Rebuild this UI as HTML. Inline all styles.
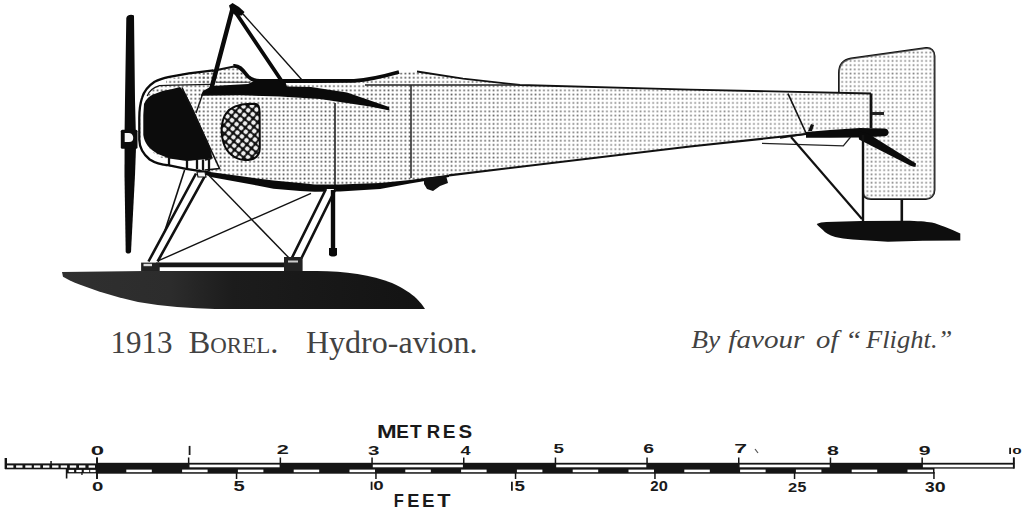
<!DOCTYPE html>
<html><head><meta charset="utf-8">
<style>
html,body{margin:0;padding:0;background:#fff;}
body{width:1024px;height:510px;overflow:hidden;position:relative;}
svg{position:absolute;left:0;top:0;}
</style></head>
<body>
<svg width="1024" height="510" viewBox="0 0 1024 510">
<defs>
<pattern id="dots" patternUnits="userSpaceOnUse" x="0" y="0" width="4.2" height="4.2">
<rect x="1.3" y="1.3" width="1.7" height="1.7" fill="#555"/>
</pattern>
<pattern id="hatch" patternUnits="userSpaceOnUse" x="0" y="0" width="6" height="6" patternTransform="rotate(40)">
<rect width="6" height="6" fill="#111"/>
<circle cx="3" cy="3" r="2.3" fill="#eee"/>
</pattern>
<linearGradient id="floatg" x1="62" y1="0" x2="425" y2="0" gradientUnits="userSpaceOnUse">
<stop offset="0" stop-color="#303030"/>
<stop offset="0.3" stop-color="#2c2c2c"/>
<stop offset="0.47" stop-color="#1c1c1c"/>
<stop offset="1" stop-color="#131313"/>
</linearGradient>
<linearGradient id="fade" x1="380" y1="0" x2="640" y2="0" gradientUnits="userSpaceOnUse">
<stop offset="0" stop-color="#fff" stop-opacity="0"/>
<stop offset="1" stop-color="#fff" stop-opacity="0.3"/>
</linearGradient>
</defs>

<!-- ===== RUDDER ===== -->
<path d="M839,100 L839,73 C839,64 843,60 851,58.5 L926,48 C931,47.5 934.5,51 934.5,56 L934.5,190 C934.5,195 931,199 926,199 L871,199 C866,199 863,196 863,191 L863,135 L839,135 Z" fill="url(#dots)" stroke="#111" stroke-width="1.9"/>
<path d="M839,100 L839,73 C839,64 843,60 851,58.5 L926,48 C931,47.5 934.5,51 934.5,56 L934.5,190 C934.5,195 931,199 926,199 L871,199 C866,199 863,196 863,191 L863,135 L839,135 Z" fill="url(#fade)"/>

<!-- ===== FUSELAGE FILL ===== -->
<path d="M140,108 C140,95 148,84 162,78 L184,73.6 L212,71 L233,66 C238,65 240,68 242,71 C246,76 250,79 256,80 L313,80 L354,80 L375,78 L401,72.6 L417,71.7 L463,78.7 L520,85 L690,89.7 L871,93.5 L871,128 L806,134 L690,146.5 L449,175.3 L425,179.4 L350,185.7 L334,187 L308,187 L257,180.6 L206,172 L181,169 C165,167 152,163 146,157 C141,152 140,145 140,140 Z" fill="#fff"/>
<path d="M140,108 C140,95 148,84 162,78 L184,73.6 L212,71 L233,66 C238,65 240,68 242,71 C246,76 250,79 256,80 L313,80 L354,80 L375,78 L401,72.6 L417,71.7 L463,78.7 L520,85 L690,89.7 L871,93.5 L871,128 L806,134 L690,146.5 L449,175.3 L425,179.4 L350,185.7 L334,187 L308,187 L257,180.6 L206,172 L181,169 C165,167 152,163 146,157 C141,152 140,145 140,140 Z" fill="url(#dots)"/>
<path d="M140,108 C140,95 148,84 162,78 L184,73.6 L212,71 L233,66 C238,65 240,68 242,71 C246,76 250,79 256,80 L313,80 L354,80 L375,78 L401,72.6 L417,71.7 L463,78.7 L520,85 L690,89.7 L871,93.5 L871,128 L806,134 L690,146.5 L449,175.3 L425,179.4 L350,185.7 L334,187 L308,187 L257,180.6 L206,172 L181,169 C165,167 152,163 146,157 C141,152 140,145 140,140 Z" fill="url(#fade)"/>

<!-- nose white rim band -->
<path d="M140,110 C141,97 148,86 158,80.5 L172,77.5 L200,74 L200,84.6 L174,85.1 L159.5,85.6 C152,88 147,95 145,104 L144,135 C146,146 152,153 160,157.5 L187,161 L211.5,158.5 L219,168.5 L186,168.8 L169,165.4 C160,164.5 152,162 147,157.5 C142,152.5 140.5,146 140.5,140 Z" fill="#fff"/>
<!-- dotted band at top of nose -->
<path d="M166,79 L200,74.5 L212,72 L212,84.4 L174,85.1 L166,85.4 Z" fill="url(#dots)"/>
<!-- black cowl -->
<path d="M144,104 C146,99 149.5,95.5 154.6,94 L162.5,91 L172.3,89 L180.1,87 L186,94.4 L191.9,106.2 L195.8,115 L210,147 L212.5,158.5 L187,161 L169.3,158.5 L158,154 C149,149 144.5,143 143.3,135 L143.3,115 Z" fill="#0c0c0c"/>
<!-- inner rim line -->
<path d="M212,84.4 L174,85.1 L159.5,85.6 C153,87.5 149,91 147.2,96" stroke="#151515" stroke-width="1.3" fill="none"/>
<!-- teeth -->
<g stroke="#111" stroke-width="2.3">
<line x1="169" y1="157" x2="169" y2="166"/>
<line x1="187" y1="160" x2="187" y2="168.5"/>
<line x1="197" y1="160" x2="197" y2="169"/>
<line x1="203" y1="159.5" x2="203" y2="170"/>
<line x1="209" y1="159" x2="209" y2="171"/>
</g>
<!-- cowl diagonal edge line continuing -->
<path d="M182,87.5 L219.5,168.5 L205,170" stroke="#111" stroke-width="1.6" fill="none"/>
<path d="M211.5,158.5 L205,160" stroke="#111" stroke-width="1.4" fill="none"/>
<path d="M203,93 L196,113" stroke="#151515" stroke-width="1.4" fill="none"/>

<!-- nose outer outline -->
<path d="M213.4,70.4 L188.9,73.3 L169.3,76.8 C162,78.5 158,80 154.6,81.7 C148,86 144,91 142,98 C140,104 139.3,110 139.3,118 L139.3,140 C139.5,148 143,154 149.7,159.5 C155,163 161,164.6 169.3,165.4 L186,168.8 L210.5,172.7" stroke="#0a0a0a" stroke-width="2.3" fill="none"/>

<!-- fuselage top outline -->
<path d="M212,71 L234,66.5" stroke="#111" stroke-width="2" fill="none"/>
<path d="M233.5,66 C240,65 244,72 248,76.5 C251,79.5 254,81 260,81 L313,81 L354,80.8 C370,79.8 385,76 399,72" stroke="#0a0a0a" stroke-width="3.8" fill="none"/>
<path d="M417,71.5 L463,78.7 L520,85 L690,89.7 L871,93.5" stroke="#111" stroke-width="1.8" fill="none"/>
<path d="M365,85 L520,85" stroke="#222" stroke-width="1.3" fill="none"/>
<path d="M216,82.2 L250,82.2" stroke="#222" stroke-width="1" fill="none"/>
<!-- rear end -->
<path d="M871,93.5 L871,128" stroke="#111" stroke-width="2.8" fill="none"/>
<path d="M872,113.5 L884,113.5" stroke="#222" stroke-width="3" fill="none"/>

<!-- panel lines -->
<path d="M335,103 L335,187" stroke="#222" stroke-width="1.6"/>
<path d="M411,85 L411,178" stroke="#222" stroke-width="1.5"/>
<path d="M788,93.7 L806,133" stroke="#111" stroke-width="1.6"/>

<!-- fuselage bottom band -->
<path d="M205,171.3 L212,172.2 L257,178.5 L273.5,180.4 L300,183 L314.7,184.6 L340,184.5 L380,183 L410,180 L449,174.8 L449,177 L410,183.5 L380,189 L340,191.5 L314.7,191.8 L300,191 L273.5,188.7 L257,185.5 L212,177.3 L206,175 Z" fill="#0a0a0a"/>
<path d="M449,175.3 L690,146.5 L806,134" stroke="#111" stroke-width="2.2" fill="none"/>
<!-- blob under fuselage -->
<path d="M424,178 L446,175.5 L448,183 L440,186 L433,191 L427,189 L424,184 Z" fill="#111"/>

<!-- wing band -->
<path d="M201,95 L203,91 L212,86 L248,84 L254,81 L285,81 L287,86.5 L311,87 L347,92.5 L389,107 L389.5,110.5 L370,106.5 L320,99 L280,96.5 L240,95.3 L201,95.8 Z" fill="#0a0a0a"/>

<!-- oval hatched window -->
<path d="M250,103.8 L256,104 C259,104.5 259.5,108 259.6,112 L259.8,148 C259.8,156 255,160 245,160 C235,160 226.5,152.5 223.5,143 C220.5,133 221,121 226,113.5 C231,106.5 240,104 250,103.8 Z" fill="url(#hatch)" stroke="#0a0a0a" stroke-width="2"/>

<!-- ===== TAIL ===== -->
<!-- tailplane -->
<path d="M806,132 L830,130 L860,128 L884,128.6 C887,128.8 888.5,130 888.5,132.5 C888.5,135 887,136 884,136.2 L860,137.5 L830,137.8 L806,137.8 Z" fill="#0a0a0a"/>
<path d="M808,131 L811,124 L814,125 L812,131 Z" fill="#111"/>
<path d="M858,131 L868,133.5 L916,163.5 L915.5,167 L911,166 L859,139.5 Z" fill="#0a0a0a"/>
<!-- under lines -->
<path d="M762,143.4 L843.3,145.8 L850.6,137" stroke="#222" stroke-width="1.3" fill="none"/>
<path d="M780,138 L806,134" stroke="#111" stroke-width="1.6" fill="none"/>
<!-- tail strut -->
<path d="M791,137 L862,219" stroke="#111" stroke-width="2.2" fill="none"/>
<path d="M863,135 L863,221" stroke="#111" stroke-width="2.4" fill="none"/>
<path d="M901.8,199 L901.8,221" stroke="#111" stroke-width="2.6" fill="none"/>
<!-- tail float -->
<path d="M816.7,224 C819,222.8 823,222.2 826.4,222 L861.5,221.1 L905.5,220.7 C918,220.9 926,221.5 931.8,222.5 C940,224.5 950,229 960.3,233.4 L960.3,240.4 L923,240.8 L887.9,241.7 L852.7,239.5 C846,238.6 840,238 835.2,236.9 C829,235 825,232.5 822.9,229.9 C820,227.5 818,226 816.7,224 Z" fill="#0e0e0e"/>

<!-- ===== PROPELLER ===== -->
<path d="M126.3,18 C127,15 131,14 134,15.5 L135,100 L135.8,131 L124.6,131 L125,100 Z" fill="#0a0a0a"/>
<path d="M124.6,148 L136,148 L135,175 L131,252 C129.5,254 127,254 125.7,252 L124.5,175 Z" fill="#0a0a0a"/>
<rect x="120.8" y="129.7" width="16.7" height="19.1" rx="1.5" fill="#0a0a0a"/>
<path d="M124.7,133.1 L129,133.1 C132,133.1 133.2,136 133.2,138 C133.2,140.5 132,142 129,142 L124.7,142 Z" fill="#f6f6f6"/>

<!-- ===== PYLON ===== -->
<path d="M229,5.5 L232.5,3 L239,7 L244.5,12 L242,15.5 L236,15.5 L231,12 Z" fill="#0a0a0a"/>
<path d="M233,7 L211,90" stroke="#0a0a0a" stroke-width="4.5" stroke-linecap="round"/>
<path d="M236,13 L283,83" stroke="#0a0a0a" stroke-width="3.8" stroke-linecap="round"/>
<path d="M243,14 L302,80" stroke="#111" stroke-width="1.4"/>

<!-- ===== UNDERCARRIAGE ===== -->
<!-- front strut -->
<path d="M196,173.5 L148.5,261.5 L157.6,261.5 L205,175.8 Z" fill="#fff"/>
<path d="M196,173.5 L148.5,261.5 M205,175.8 L157.6,261.5" stroke="#111" stroke-width="2.6"/>
<path d="M197,172 L205,172 L206,177 L198,177 Z" fill="#f5f5f5" stroke="#111" stroke-width="1.2"/>
<path d="M184.6,170 L164.5,232" stroke="#111" stroke-width="1.6"/>
<!-- rear strut -->
<path d="M326,189 L291.6,258.5 L301.3,258.5 L336,189 Z" fill="#fff"/>
<path d="M326,189 L291.6,258.5 M335.5,189 L301.3,258.5" stroke="#111" stroke-width="2.6"/>
<!-- vertical rod -->
<path d="M333,190 L333,250" stroke="#0a0a0a" stroke-width="4.4"/>
<path d="M329,248 L337,248 L337,255 C335,257 331,257 329,255 Z" fill="#0a0a0a"/>
<!-- bracing wires -->
<path d="M209,175.5 L290.6,259.6" stroke="#111" stroke-width="1.4"/>
<path d="M158,260.9 L311,193.3" stroke="#111" stroke-width="1.4"/>
<!-- horizontal bar -->
<path d="M156,262.6 L290,262.6 L290,267.3 L156,267.3 Z" fill="#161616"/>
<path d="M141.1,262.6 L159.7,262.6 L159.7,271.5 L141.1,271.5 Z" fill="#222"/>
<path d="M143.5,263.8 L152,263.8 L152,266.2 L143.5,266.2 Z" fill="#ddd"/>
<path d="M284,257 L302.6,257 L302.6,271.5 L284,271.5 Z" fill="#222"/>
<path d="M288,260.5 L298,260.5 L298,262.5 L288,262.5 Z" fill="#ccc"/>

<!-- ===== MAIN FLOAT ===== -->
<path d="M62,272 L145,271 L317,271 C345,271.2 372,275 392,283 C404,288.5 411,293.5 416.5,298.5 C420,302 423,305.5 425,309 L215,309 L196.7,308.2 L177,307 L157.7,305.1 L138,302.1 L118.6,297.3 L99,291.4 L79.5,284.5 C72,281.5 67,279 63,276.7 Z" fill="url(#floatg)"/>

<!-- ===== SCALE BAR ===== -->
<g id="scale">
<rect x="5" y="463.4" width="92" height="5.9" fill="#151515"/>
<rect x="66.6" y="468.8" width="30.4" height="4.6" fill="#151515"/>
<rect x="7.0" y="465.4" width="6.4" height="2.3" fill="#fff"/>
<rect x="16.1" y="465.4" width="6.4" height="2.3" fill="#fff"/>
<rect x="25.3" y="465.4" width="6.4" height="2.3" fill="#fff"/>
<rect x="33.9" y="465.4" width="6.4" height="2.3" fill="#fff"/>
<rect x="43.0" y="465.4" width="6.4" height="2.3" fill="#fff"/>
<rect x="52.1" y="465.4" width="6.4" height="2.3" fill="#fff"/>
<rect x="60.7" y="465.4" width="6.4" height="2.3" fill="#fff"/>
<rect x="69.8" y="465.4" width="6.4" height="2.3" fill="#fff"/>
<rect x="79.0" y="465.4" width="6.4" height="2.3" fill="#fff"/>
<rect x="88.6" y="465.4" width="6.4" height="2.3" fill="#fff"/>
<rect x="68.7" y="469.9" width="5.4" height="2.2" fill="#fff"/>
<rect x="76.3" y="469.9" width="5.4" height="2.2" fill="#fff"/>
<rect x="83.8" y="469.9" width="5.4" height="2.2" fill="#fff"/>
<rect x="90.2" y="469.9" width="5.4" height="2.2" fill="#fff"/>
<rect x="4.6" y="458" width="2.4" height="11" fill="#151515"/>
<rect x="50.3" y="461" width="1.5" height="3" fill="#151515"/>
<rect x="65.8" y="469" width="1.6" height="9.5" fill="#151515"/>
<rect x="81.3" y="472" width="1.3" height="3" fill="#151515"/>
<rect x="97" y="462.8" width="917.6" height="5.8" fill="#151515"/>
<rect x="97" y="468" width="837.5" height="5.7" fill="#151515"/>
<rect x="189.5" y="464.6" width="90.1" height="2.7" fill="#fff"/>
<rect x="372.8" y="464.6" width="90.1" height="2.7" fill="#fff"/>
<rect x="556.2" y="464.6" width="90.1" height="2.7" fill="#fff"/>
<rect x="739.6" y="464.6" width="90.1" height="2.7" fill="#fff"/>
<rect x="922.9" y="464.6" width="90.1" height="2.7" fill="#fff"/>
<rect x="126.3" y="469.6" width="25.5" height="2.6" fill="#fff"/>
<rect x="182.1" y="469.6" width="25.5" height="2.6" fill="#fff"/>
<rect x="237.9" y="469.6" width="25.5" height="2.6" fill="#fff"/>
<rect x="293.7" y="469.6" width="25.5" height="2.6" fill="#fff"/>
<rect x="349.5" y="469.6" width="25.5" height="2.6" fill="#fff"/>
<rect x="405.3" y="469.6" width="25.5" height="2.6" fill="#fff"/>
<rect x="461.1" y="469.6" width="25.5" height="2.6" fill="#fff"/>
<rect x="516.9" y="469.6" width="25.5" height="2.6" fill="#fff"/>
<rect x="572.7" y="469.6" width="25.5" height="2.6" fill="#fff"/>
<rect x="628.5" y="469.6" width="25.5" height="2.6" fill="#fff"/>
<rect x="684.3" y="469.6" width="25.5" height="2.6" fill="#fff"/>
<rect x="740.1" y="469.6" width="25.5" height="2.6" fill="#fff"/>
<rect x="795.9" y="469.6" width="25.5" height="2.6" fill="#fff"/>
<rect x="851.7" y="469.6" width="25.5" height="2.6" fill="#fff"/>
<rect x="907.5" y="469.6" width="25.5" height="2.6" fill="#fff"/>
<rect x="96.2" y="457.5" width="1.5" height="6" fill="#151515"/>
<rect x="187.9" y="457.5" width="1.5" height="6" fill="#151515"/>
<rect x="279.6" y="457.5" width="1.5" height="6" fill="#151515"/>
<rect x="371.3" y="457.5" width="1.5" height="6" fill="#151515"/>
<rect x="463.0" y="457.5" width="1.5" height="6" fill="#151515"/>
<rect x="554.7" y="457.5" width="1.5" height="6" fill="#151515"/>
<rect x="646.3" y="457.5" width="1.5" height="6" fill="#151515"/>
<rect x="738.0" y="457.5" width="1.5" height="6" fill="#151515"/>
<rect x="829.7" y="457.5" width="1.5" height="6" fill="#151515"/>
<rect x="921.4" y="457.5" width="1.5" height="6" fill="#151515"/>
<rect x="1013.1" y="457.5" width="1.5" height="6" fill="#151515"/>
<rect x="96.2" y="472" width="1.5" height="7" fill="#151515"/>
<rect x="235.8" y="472" width="1.5" height="7" fill="#151515"/>
<rect x="375.2" y="472" width="1.5" height="7" fill="#151515"/>
<rect x="514.8" y="472" width="1.5" height="7" fill="#151515"/>
<rect x="654.2" y="472" width="1.5" height="7" fill="#151515"/>
<rect x="793.8" y="472" width="1.5" height="7" fill="#151515"/>
<rect x="933.2" y="472" width="1.5" height="7" fill="#151515"/>
<rect x="96.2" y="457.5" width="1.7" height="21.5" fill="#151515"/>
<rect x="1012.9" y="457.5" width="1.7" height="11" fill="#151515"/>
<g font-family="Liberation Sans, sans-serif" font-weight="bold" fill="#1a1a1a">
<text transform="translate(90.84,455.00) scale(1.953,1)" font-size="12.29">0</text>
<text transform="translate(276.84,454.00) scale(1.764,1)" font-size="12.29">2</text>
<text transform="translate(367.88,454.50) scale(1.639,1)" font-size="12.57">3</text>
<text transform="translate(460.43,455.00) scale(1.390,1)" font-size="13.04">4</text>
<text transform="translate(553.54,453.20) scale(1.410,1)" font-size="13.33">5</text>
<text transform="translate(643.22,453.40) scale(1.443,1)" font-size="13.43">6</text>
<text transform="translate(734.26,453.40) scale(1.689,1)" font-size="13.62">7</text>
<text transform="translate(826.96,454.80) scale(1.595,1)" font-size="13.43">8</text>
<text transform="translate(918.66,455.10) scale(1.770,1)" font-size="12.00">9</text>
<text transform="translate(1012.32,453.90) scale(1.809,1)" font-size="9.43">0</text>
<text transform="translate(92.08,490.50) scale(1.554,1)" font-size="13.14">0</text>
<text transform="translate(233.59,490.50) scale(1.467,1)" font-size="13.77">5</text>
<text transform="translate(373.25,490.00) scale(1.490,1)" font-size="12.57">0</text>
<text transform="translate(514.44,490.80) scale(1.351,1)" font-size="13.91">5</text>
<text transform="translate(650.27,491.00) scale(1.050,1)" font-size="14.29">2</text>
<text transform="translate(658.84,491.00) scale(1.149,1)" font-size="14.29">0</text>
<text transform="translate(788.02,491.50) scale(1.213,1)" font-size="13.57">2</text>
<text transform="translate(797.52,491.50) scale(1.162,1)" font-size="13.77">5</text>
<text transform="translate(924.97,491.50) scale(1.254,1)" font-size="13.86">3</text>
<text transform="translate(934.72,491.50) scale(1.413,1)" font-size="13.86">0</text>
<text transform="translate(377.06,437.70) scale(1.330,1)" font-size="17.83">M</text>
<text transform="translate(396.17,437.70) scale(1.062,1)" font-size="17.83">E</text>
<text transform="translate(410.11,437.70) scale(1.074,1)" font-size="17.83">T</text>
<text transform="translate(426.79,437.70) scale(1.035,1)" font-size="17.96">R</text>
<text transform="translate(442.86,437.70) scale(1.072,1)" font-size="17.83">E</text>
<text transform="translate(458.58,437.70) scale(1.167,1)" font-size="17.57">S</text>
<text transform="translate(393.83,507.40) scale(0.917,1)" font-size="17.97">F</text>
<text transform="translate(407.22,507.40) scale(1.014,1)" font-size="17.97">E</text>
<text transform="translate(421.88,507.40) scale(1.044,1)" font-size="17.97">E</text>
<text transform="translate(437.18,507.40) scale(1.207,1)" font-size="17.97">T</text>
</g>
<path d="M189.6,445.9 L189.6,455.0" stroke="#1a1a1a" stroke-width="1.8"/>
<path d="M1010.1,447.8 L1010.1,453.9" stroke="#1a1a1a" stroke-width="1.8"/>
<path d="M371.6,481.7 L371.6,490.0" stroke="#1a1a1a" stroke-width="1.8"/>
<path d="M511.9,481.7 L511.9,490.8" stroke="#1a1a1a" stroke-width="1.8"/>
<path d="M755,449 L758,453" stroke="#555" stroke-width="1.2"/>
</g>
<!-- ===== CAPTIONS ===== -->
<g font-family="Liberation Serif, serif" fill="#424242">
<text id="t1" transform="translate(110.5,353.3) scale(0.97,1)" font-size="32">1913</text>
<text id="t2" transform="translate(188.5,353.3) scale(1.02,1)" font-size="32">B<tspan font-size="22.5">OREL</tspan>.</text>
<text id="t3" transform="translate(306,353.3) scale(1,1)" font-size="32">Hydro-avion.</text>
</g>
<g font-family="Liberation Serif, serif" font-style="italic" font-size="24.5" fill="#424242">
<text transform="translate(691.3,347.6) scale(1.12,1)">By</text>
<text transform="translate(728.3,347.6) scale(1.19,1)">favour</text>
<text transform="translate(816.1,347.6) scale(1.17,1)">of</text>
<text transform="translate(845,347.6) scale(1.2,1)">“</text>
<text transform="translate(866,347.6) scale(1.085,1)">Flight.”</text>
</g>
</svg>
</body></html>
